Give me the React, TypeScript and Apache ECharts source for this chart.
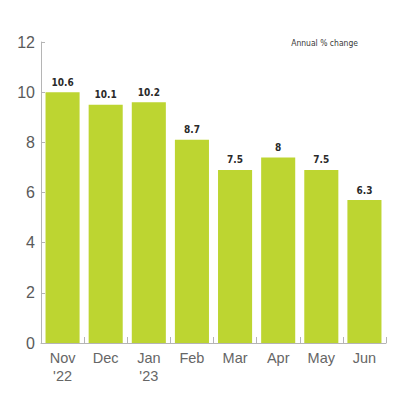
import React, { useEffect, useRef } from "react";
import * as echarts from "echarts";

const categories = ["Nov\n'22", "Dec", "Jan\n'23", "Feb", "Mar", "Apr", "May", "Jun"];
const values = [10.6, 10.1, 10.2, 8.7, 7.5, 8, 7.5, 6.3];
// the source chart's value axis is shifted: its "0" baseline sits at this value
const AXIS_OFFSET = 0.6;
const AXIS_SPAN = 12;
const TICK_STEP = 2;
const unitLabel = "Annual % change";

const NARROW = "'DejaVu Sans Condensed', sans-serif";

export default function App() {
  const ref = useRef<HTMLDivElement>(null);
  useEffect(() => {
    const chart = echarts.init(ref.current!, null, { renderer: "svg" });
    chart.setOption({
      animation: false,
      grid: { left: 41, right: 14, top: 42, bottom: 57, containLabel: false },
      graphic: [
        {
          type: "text",
          right: 42,
          top: 38,
          style: {
            text: unitLabel,
            fontSize: 8.5,
            fill: "#3a3a3a",
            fontFamily: NARROW,
          },
        },
      ],
      xAxis: {
        type: "category",
        data: categories,
        axisLine: { lineStyle: { color: "#b5b5b5", width: 1 } },
        axisTick: { show: true, inside: true, length: 6, alignWithLabel: false, lineStyle: { color: "#b5b5b5" } },
        axisLabel: {
          color: "#666",
          fontSize: 14.5,
          fontFamily: "Liberation Sans, Arial",
          margin: 6,
          lineHeight: 18,
        },
      },
      yAxis: {
        type: "value",
        min: AXIS_OFFSET,
        max: AXIS_OFFSET + AXIS_SPAN,
        interval: TICK_STEP,
        splitLine: { show: false },
        axisLine: { show: true, lineStyle: { color: "#b5b5b5", width: 1 } },
        axisTick: { show: true, inside: true, length: 4, lineStyle: { color: "#b5b5b5" } },
        axisLabel: {
          color: "#5a5a5a",
          fontSize: 16,
          fontFamily: "Liberation Sans, Arial",
          margin: 6,
          formatter: (v: number) => String(Math.round((v - AXIS_OFFSET) * 10) / 10),
        },
      },
      series: [
        {
          type: "bar",
          data: values,
          barWidth: "79%",
          itemStyle: { color: "#bdd531" },
          label: {
            show: true,
            position: "top",
            distance: 5,
            color: "#2a2a2a",
            fontSize: 10,
            fontWeight: "bold",
            fontFamily: NARROW,
          },
        },
      ],
    });
    return () => chart.dispose();
  }, []);
  return <div ref={ref} style={{ width: 400, height: 400, position: "absolute", left: 0, top: 0 }} />;
}
